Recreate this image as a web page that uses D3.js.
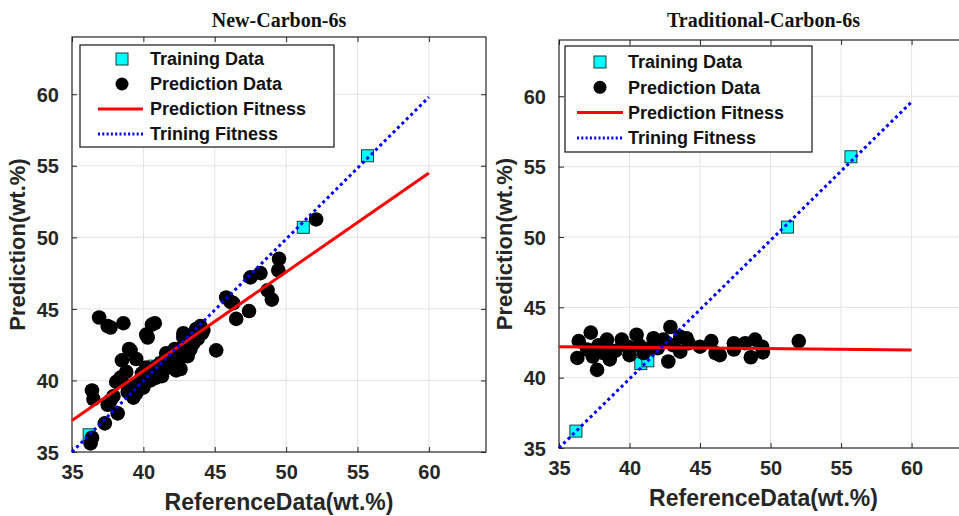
<!DOCTYPE html>
<html>
<head>
<meta charset="utf-8">
<script src="https://cdn.jsdelivr.net/npm/d3@7"></script>
<style>
  html, body { margin: 0; padding: 0; background: #fff; }
  svg { display: block; }
</style>
</head>
<body>
<svg id="chart" width="959" height="516"></svg>
<script>
// Tick values shared by both panels
const tickValues = [35, 40, 45, 50, 55, 60];
const axisDomain = [35, 64];

// Training samples (same in both panels)
const trainingRef  = [36.2, 40.8, 41.3, 51.2, 55.7];
const trainingPred = [36.2, 41.0, 41.2, 50.7, 55.7];

// New-Carbon-6s prediction samples
const newRef = [36.9, 37.5, 37.7, 38.6, 40.6, 40.8, 40.3, 40.2, 39.0, 39.1, 38.5, 39.5,
  36.4, 36.5, 38.4, 38.1, 37.7, 37.5, 38.2, 37.3, 36.4, 36.3,
  39.3, 39.5, 40.0, 40.5, 41.0, 40.8, 40.2, 40.9,
  41.5, 41.9, 42.1, 42.6, 42.3, 41.9, 42.3, 41.4,
  42.8, 43.3, 42.8, 43.5, 43.85, 44.2, 43.7, 42.8, 43.7, 44.1,
  45.1, 45.8, 46.3, 46.1, 46.5, 47.4, 49.0, 48.7, 47.5, 48.2, 49.45, 49.5, 52.1,
  39.0, 38.8, 39.8, 41.2, 42.0, 42.5, 43.0, 44.0, 37.9, 39.9,
  41.0, 41.6, 42.2, 42.9, 43.3, 43.8, 40.4, 41.3, 42.6, 43.1, 38.9, 39.6];
const newPred = [44.4, 43.8, 43.7, 44.0, 43.9, 44.0, 43.0, 43.2, 42.2, 42.1, 41.4, 41.5,
  39.3, 38.7, 40.2, 39.9, 38.6, 38.3, 37.7, 37.0, 36.0, 35.6,
  38.8, 39.1, 39.5, 40.0, 40.5, 40.9, 40.9, 40.2,
  41.4, 40.9, 41.2, 41.6, 40.7, 41.6, 41.6, 40.9,
  42.3, 42.8, 43.0, 42.6, 43.3, 43.5, 43.6, 43.3, 43.5, 43.3,
  42.1, 45.8, 45.4, 45.5, 44.3, 44.85, 45.65, 46.3, 47.2, 47.5, 47.7, 48.5, 51.25,
  39.6, 40.6, 40.0, 41.2, 41.9, 42.0, 42.6, 43.8, 38.9, 40.5,
  41.0, 41.9, 42.2, 42.0, 42.2, 42.9, 40.4, 40.3, 40.8, 41.7, 39.2, 39.8];

// Traditional-Carbon-6s prediction samples
const tradRef = [36.4, 36.3, 37.0, 37.25, 37.4, 37.7, 37.8, 38.15, 38.4, 38.6, 39.0, 39.45,
  39.9, 40.0, 40.5, 40.7, 41.0, 41.45, 41.7, 42.0, 42.4, 42.75, 42.9, 43.1, 43.6, 43.6,
  44.05, 44.2, 45.0, 45.8, 46.1, 46.4, 47.4, 47.4, 48.2, 48.6, 48.9, 49.4, 49.45, 52.0];
const tradPred = [42.6, 41.4, 42.0, 43.2, 41.5, 40.55, 42.3, 41.75, 42.7, 41.3, 41.9, 42.7,
  42.2, 41.6, 43.05, 42.3, 41.75, 42.1, 42.8, 42.1, 42.7, 41.15, 43.6, 42.3, 42.9, 41.85,
  42.8, 42.45, 42.2, 42.6, 41.75, 41.6, 42.45, 42.0, 42.45, 41.45, 42.7, 42.2, 41.8, 42.6];

// Fitted lines: endpoints at x = 35 and x = 60
const fitX = [35, 60];
const newPredFit  = [37.2, 54.5];
const newTrainFit = [35.0, 59.8];
const tradPredFit  = [42.2, 41.97];
const tradTrainFit = [35.0, 59.6];

const legendLabels = ["Training Data", "Prediction Data", "Prediction Fitness", "Trining Fitness"];

const AXIS = "#262626";
const GRID = "#e3e3e3";
const SANS = "'Liberation Sans', Arial, sans-serif";

const svg = d3.select("#chart");

function panel(cfg) {
  const x = d3.scaleLinear().domain(axisDomain).range([cfg.left, cfg.right]);
  const y = d3.scaleLinear().domain(axisDomain).range([cfg.bottom, cfg.top]);
  const g = svg.append("g");

  // grid
  g.append("g").selectAll("line").data(tickValues.slice(1)).join("line")
    .attr("x1", d => x(d)).attr("x2", d => x(d))
    .attr("y1", cfg.top).attr("y2", cfg.bottom)
    .attr("stroke", GRID).attr("stroke-width", 1);
  g.append("g").selectAll("line").data(tickValues.slice(1)).join("line")
    .attr("y1", d => y(d)).attr("y2", d => y(d))
    .attr("x1", cfg.left).attr("x2", cfg.right)
    .attr("stroke", GRID).attr("stroke-width", 1);

  // axes (ticks point inward, mirrored on the opposite sides)
  const tickFmt = d3.format("d");
  const xb = g.append("g").attr("transform", `translate(0,${cfg.bottom})`)
    .call(d3.axisBottom(x).tickValues(tickValues).tickSizeInner(-5).tickSizeOuter(0).tickPadding(13).tickFormat(tickFmt));
  const xt = g.append("g").attr("transform", `translate(0,${cfg.top})`)
    .call(d3.axisTop(x).tickValues(tickValues).tickSizeInner(-5).tickSizeOuter(0).tickFormat(""));
  const yl = g.append("g").attr("transform", `translate(${cfg.left},0)`)
    .call(d3.axisLeft(y).tickValues(tickValues).tickSizeInner(-5).tickSizeOuter(0).tickPadding(13).tickFormat(tickFmt));
  const yr = g.append("g").attr("transform", `translate(${cfg.right},0)`)
    .call(d3.axisRight(y).tickValues(tickValues).tickSizeInner(-5).tickSizeOuter(0).tickFormat(""));
  [xb, xt, yl, yr].forEach(a => {
    a.select(".domain").remove();
    a.selectAll("line").attr("stroke", AXIS).attr("stroke-width", 1);
    a.selectAll("text").attr("fill", AXIS).attr("font-family", SANS)
      .attr("font-weight", "bold").attr("font-size", 20);
  });
  yl.selectAll("text").attr("dy", "0.36em");

  // box
  g.append("rect").attr("x", cfg.left).attr("y", cfg.top)
    .attr("width", cfg.right - cfg.left).attr("height", cfg.bottom - cfg.top)
    .attr("fill", "none").attr("stroke", AXIS).attr("stroke-width", 1.2);

  // training squares
  const sq = 12;
  g.append("g").selectAll("rect").data(d3.zip(trainingRef, trainingPred)).join("rect")
    .attr("x", d => x(d[0]) - sq / 2).attr("y", d => y(d[1]) - sq / 2)
    .attr("width", sq).attr("height", sq)
    .attr("fill", "#00ffff").attr("stroke", "#1a3a3a").attr("stroke-width", 1);

  // prediction dots
  g.append("g").selectAll("circle").data(d3.zip(cfg.ref, cfg.pred)).join("circle")
    .attr("cx", d => x(d[0])).attr("cy", d => y(d[1])).attr("r", 7.3)
    .attr("fill", "#000");

  const line = d3.line().x(d => x(d[0])).y(d => y(d[1]));
  g.append("path").datum(d3.zip(fitX, cfg.predFit)).attr("d", line)
    .attr("fill", "none").attr("stroke", "#ff0000").attr("stroke-width", 3);
  g.append("path").datum(d3.zip(fitX, cfg.trainFit)).attr("d", line)
    .attr("fill", "none").attr("stroke", "#0000ff").attr("stroke-width", 3)
    .attr("stroke-dasharray", "3,3.2");

  // title
  g.append("text").attr("x", (cfg.left + cfg.right) / 2).attr("y", 27)
    .attr("text-anchor", "middle").attr("font-family", "'Liberation Serif', 'Times New Roman', serif")
    .attr("font-weight", "bold").attr("font-size", 20).attr("fill", "#111")
    .text(cfg.title);

  // axis titles
  g.append("text").attr("x", (cfg.left + cfg.right) / 2).attr("y", cfg.bottom + 58)
    .attr("text-anchor", "middle").attr("font-family", SANS).attr("font-weight", "bold")
    .attr("font-size", 23).attr("fill", AXIS).text("ReferenceData(wt.%)");
  g.append("text")
    .attr("transform", `translate(${cfg.left - 47},${(cfg.top + cfg.bottom) / 2}) rotate(-90)`)
    .attr("text-anchor", "middle").attr("font-family", SANS).attr("font-weight", "bold")
    .attr("font-size", 22).attr("fill", AXIS).text("Prediction(wt.%)");

  // legend
  const L = cfg.legend;
  const lg = g.append("g");
  lg.append("rect").attr("x", L.x).attr("y", L.y).attr("width", L.w).attr("height", L.h)
    .attr("fill", "#fff").attr("stroke", AXIS).attr("stroke-width", 1.3);
  const rows = legendLabels.map((t, i) => ({ t, i, cy: L.y + L.first + i * L.step }));
  const mx = L.x + L.markX;
  lg.append("rect").attr("x", mx - 6).attr("y", rows[0].cy - 6).attr("width", 12).attr("height", 12)
    .attr("fill", "#00ffff").attr("stroke", "#1a3a3a").attr("stroke-width", 1);
  lg.append("circle").attr("cx", mx).attr("cy", rows[1].cy).attr("r", 6.5).attr("fill", "#000");
  lg.append("line").attr("x1", L.x + L.lineX0).attr("x2", L.x + L.lineX1)
    .attr("y1", rows[2].cy).attr("y2", rows[2].cy).attr("stroke", "#ff0000").attr("stroke-width", 3);
  lg.append("line").attr("x1", L.x + L.lineX0).attr("x2", L.x + L.lineX1)
    .attr("y1", rows[3].cy).attr("y2", rows[3].cy).attr("stroke", "#0000ff").attr("stroke-width", 3)
    .attr("stroke-dasharray", "2,2.3");
  lg.selectAll("text").data(rows).join("text")
    .attr("x", L.x + L.textX).attr("y", d => d.cy).attr("dy", "0.36em")
    .attr("font-family", SANS).attr("font-weight", "bold").attr("font-size", 18)
    .attr("fill", "#111").text(d => d.t);
}

panel({
  title: "New-Carbon-6s",
  left: 72, right: 486, top: 37, bottom: 452,
  ref: newRef, pred: newPred, predFit: newPredFit, trainFit: newTrainFit,
  legend: { x: 80, y: 45, w: 254, h: 102, first: 14, step: 25, markX: 42, lineX0: 18, lineX1: 63, textX: 70 }
});

panel({
  title: "Traditional-Carbon-6s",
  left: 559, right: 968, top: 40, bottom: 448,
  ref: tradRef, pred: tradPred, predFit: tradPredFit, trainFit: tradTrainFit,
  legend: { x: 565, y: 46, w: 247, h: 106, first: 16, step: 25.3, markX: 35, lineX0: 12, lineX1: 58, textX: 63 }
});
</script>
</body>
</html>
